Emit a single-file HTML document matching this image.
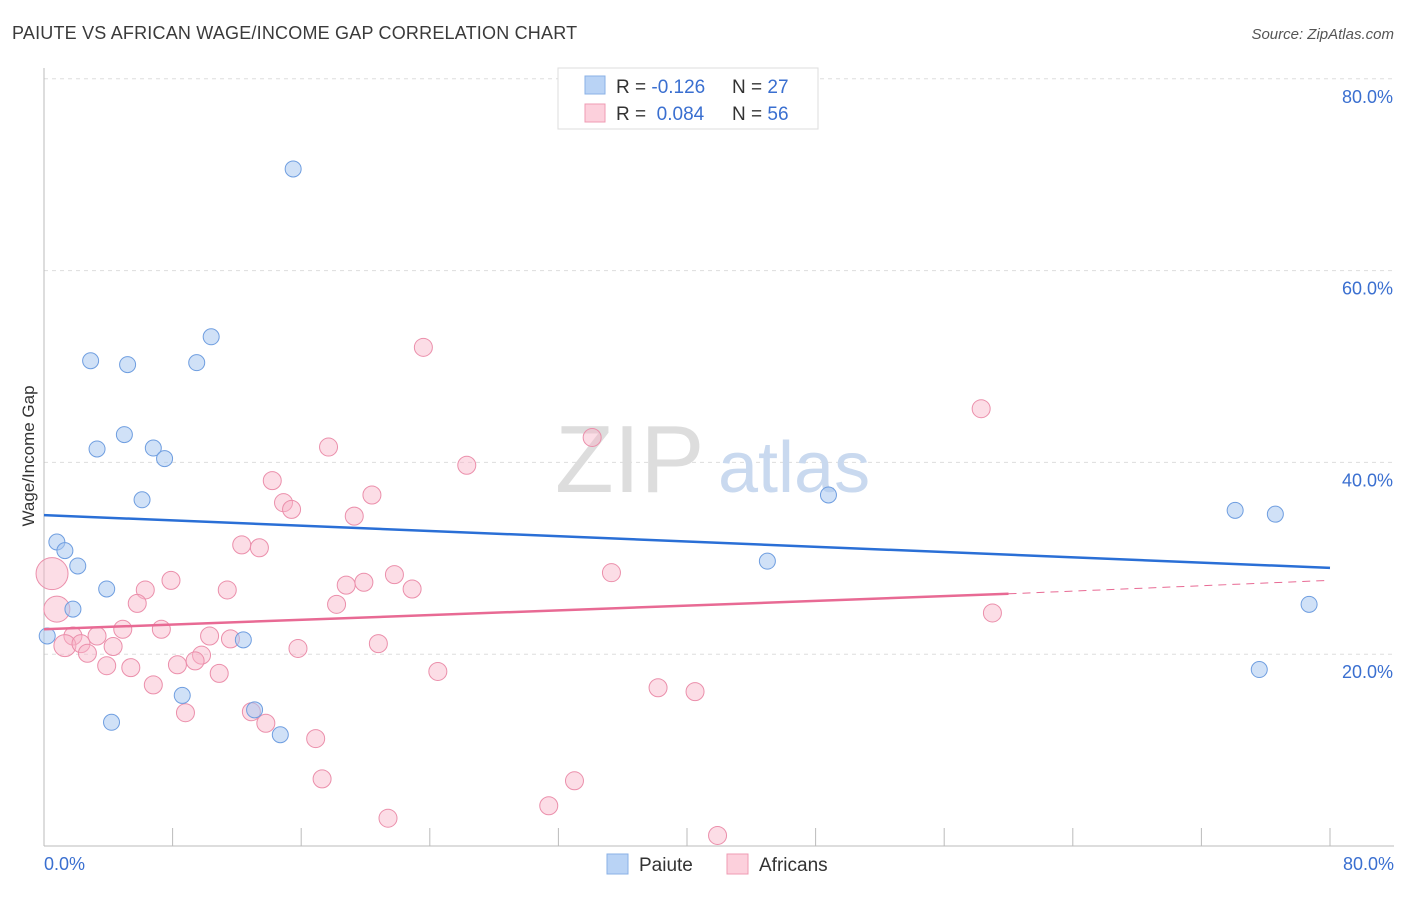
<!DOCTYPE html>
<html><head><meta charset="utf-8">
<style>
body{margin:0;background:#fff;font-family:"Liberation Sans",sans-serif;}
svg text{font-family:"Liberation Sans",sans-serif;}
</style></head>
<body>
<svg id="chart" width="1406" height="892">
<text x="12" y="39" font-size="18" fill="#3a3a3a" letter-spacing="0.2">PAIUTE VS AFRICAN WAGE/INCOME GAP CORRELATION CHART</text>
<text x="1394" y="39" font-size="15" fill="#555" font-style="italic" text-anchor="end">Source: ZipAtlas.com</text>
<g id="grid"></g>
<text x="555" y="492" font-size="96" fill="#ddd" font-family="Liberation Serif">ZIP</text>
<text x="718" y="492" font-size="72" fill="#c9d9ef">atlas</text>
<g id="pts"></g>
<g id="lines"></g>
<text transform="translate(34,456) rotate(-90)" font-size="17" fill="#333" text-anchor="middle">Wage/Income Gap</text>
<text x="44" y="870" font-size="18" fill="#3a6fd0">0.0%</text>
<text x="1394" y="870" font-size="18" fill="#3a6fd0" text-anchor="end">80.0%</text>
<g>
<rect x="558" y="68" width="260" height="61" fill="#fff" stroke="#ddd"/>
<rect x="585" y="76" width="20" height="18" fill="#b9d3f5" stroke="#8ab0e6"/>
<text x="616" y="93" font-size="19" fill="#333">R = <tspan fill="#3a6fd0">-0.126</tspan></text>
<text x="732" y="93" font-size="19" fill="#333">N = <tspan fill="#3a6fd0">27</tspan></text>
<rect x="585" y="104" width="20" height="18" fill="#fcd0dc" stroke="#ef9bb3"/>
<text x="616" y="120" font-size="19" fill="#333">R = <tspan fill="#3a6fd0">&#160;0.084</tspan></text>
<text x="732" y="120" font-size="19" fill="#333">N = <tspan fill="#3a6fd0">56</tspan></text>
</g>
<g>
<rect x="607" y="854" width="21" height="20" fill="#b9d3f5" stroke="#8ab0e6"/>
<text x="639" y="871" font-size="19" fill="#333">Paiute</text>
<rect x="727" y="854" width="21" height="20" fill="#fcd0dc" stroke="#ef9bb3"/>
<text x="759" y="871" font-size="19" fill="#333">Africans</text>
</g>
</svg>
<script>
const yTicks=[20,40,60,80];
const xTicks=[0,8,16,24,32,40,48,56,64,72,80];
const paiuteX=[15.5,10.4,2.9,5.2,9.5,5.0,3.3,6.8,7.5,6.1,48.8,74.1,76.6,0.8,1.3,2.1,45.0,3.9,1.8,78.7,0.2,12.4,75.6,8.6,13.1,4.2,14.7];
const paiuteY=[70.6,53.1,50.6,50.2,50.4,42.9,41.4,41.5,40.4,36.1,36.6,35.0,34.6,31.7,30.8,29.2,29.7,26.8,24.7,25.2,21.9,21.5,18.4,15.7,14.2,12.9,11.6];
const afrX=[23.6,58.3,34.1,17.7,26.3,14.2,20.4,14.9,15.4,19.3,12.3,13.4,0.5,35.3,21.8,7.9,19.9,18.8,6.3,11.4,22.9,5.8,18.2,0.8,59.0,4.9,7.3,1.8,3.3,10.3,11.6,1.3,2.3,4.3,15.8,20.8,2.7,9.8,9.4,8.3,3.9,5.4,10.9,24.5,6.8,38.2,40.5,8.8,12.9,13.8,16.9,17.3,33.0,31.4,21.4,41.9];
const afrY=[52.0,45.6,42.6,41.6,39.7,38.1,36.6,35.8,35.1,34.4,31.4,31.1,28.4,28.5,28.3,27.7,27.5,27.2,26.7,26.7,26.8,25.3,25.2,24.7,24.3,22.6,22.6,21.9,21.9,21.9,21.6,20.9,21.1,20.8,20.6,21.1,20.1,19.9,19.3,18.9,18.8,18.6,18.0,18.2,16.8,16.5,16.1,13.9,14.0,12.8,11.2,7.0,6.8,4.2,2.9,1.1];
const afrSize=[9,9,9,9,9,9,9,9,9,9,9,9,16,9,9,9,9,9,9,9,9,9,9,13,9,9,9,9,9,9,9,11,9,9,9,9,9,9,9,9,9,9,9,9,9,9,9,9,9,9,9,9,9,9,9,9];
const blueTrend=[[0,34.5],[80,29.0]];
const pinkTrend=[[0,22.6],[60,26.3]];
const pinkDash=[[60,26.3],[80,27.7]];
const sx=v=>44+v*16.075, sy=v=>846-v*9.59;
const NS="http://www.w3.org/2000/svg";
function mk(t,a,p){const e=document.createElementNS(NS,t);for(const k in a)e.setAttribute(k,a[k]);p.appendChild(e);return e;}
const grid=document.getElementById('grid');
yTicks.forEach(v=>{
 const l=mk('line',{x1:44,x2:1394,y1:sy(v),y2:sy(v),stroke:'#ddd','stroke-dasharray':'4,4'},grid);
 
 
 const t=mk('text',{x:1393,y:sy(v)+24,'font-size':18,fill:'#3a6fd0','text-anchor':'end'},grid);
 t.textContent=v.toFixed(1)+'%';
 
 
});
const ax=mk('line',{x1:44,x2:1394,y1:846,y2:846,stroke:'#bbb'},grid);


const ay=mk('line',{x1:44,x2:44,y1:68,y2:846,stroke:'#bbb'},grid);


xTicks.forEach(v=>{
 const t=mk('line',{x1:sx(v),x2:sx(v),y1:828,y2:846,stroke:'#bbb'},grid);
 
 
});
const pts=document.getElementById('pts');
afrX.forEach((x,i)=>{
 const c=mk('circle',{cx:sx(x),cy:sy(afrY[i]),r:afrSize[i],fill:'rgba(248,180,200,0.45)',stroke:'#eb8fab','stroke-width':1},pts);
 
 
});
paiuteX.forEach((x,i)=>{
 const c=mk('circle',{cx:sx(x),cy:sy(paiuteY[i]),r:8,fill:'rgba(170,200,240,0.55)',stroke:'#6f9ee0','stroke-width':1},pts);
 
 
});
const lines=document.getElementById('lines');
const b=mk('line',{x1:sx(blueTrend[0][0]),y1:sy(blueTrend[0][1]),x2:sx(blueTrend[1][0]),y2:sy(blueTrend[1][1]),stroke:'#2a6fd6','stroke-width':2.5},lines);


const p=mk('line',{x1:sx(pinkTrend[0][0]),y1:sy(pinkTrend[0][1]),x2:sx(pinkTrend[1][0]),y2:sy(pinkTrend[1][1]),stroke:'#e86a94','stroke-width':2.5},lines);


const d=mk('line',{x1:sx(pinkDash[0][0]),y1:sy(pinkDash[0][1]),x2:sx(pinkDash[1][0]),y2:sy(pinkDash[1][1]),stroke:'#e86a94','stroke-width':1,'stroke-dasharray':'8,6'},lines);


</script>
</body></html>
